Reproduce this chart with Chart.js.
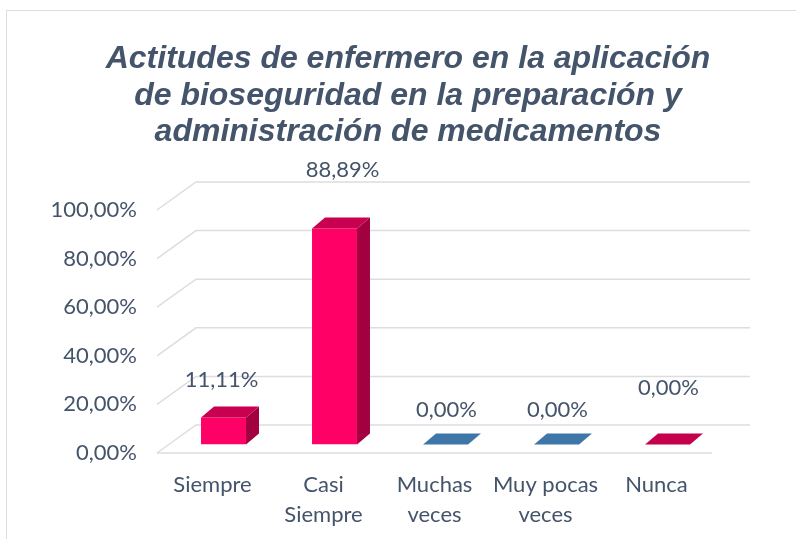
<!DOCTYPE html>
<html>
<head>
<meta charset="utf-8">
<script src="https://cdn.jsdelivr.net/npm/chart.js@4.4.1/dist/chart.umd.min.js"></script>
<style>
  html, body { margin: 0; padding: 0; background: #fff; }
  #wrap { width: 796px; height: 539px; }
</style>
</head>
<body>
<div id="wrap"><canvas id="chart" width="796" height="539"></canvas></div>
<script>
// data
var categories = ['Siempre', ['Casi', 'Siempre'], ['Muchas', 'veces'], ['Muy pocas', 'veces'], 'Nunca'];
var values = [0.1111, 0.8889, 0, 0, 0];
var tickValues = [0, 0.2, 0.4, 0.6, 0.8, 1];
var titleLines = ['Actitudes de enfermero en la aplicación', 'de bioseguridad en la preparación y', 'administración de medicamentos'];

// colours of the faces
var frontColors = ['#FF0066', '#FF0066', '#4A7EB0', '#4A7EB0', '#FF0066'];
var topColors = ['#C8004F', '#C8004F', '#3F76A8', '#3F76A8', '#C4004C'];
var sideColors = ['#A2003F', '#A2003F', '#30608C', '#30608C', '#A2003F'];

// label tweaks, Excel places them a bit unevenly
var labelLift = [38, 59, 35, 35, 57];
var labelShiftX = [-2, 8, 1, 1, 1];

var textColor = '#44546A';
var gridColor = '#DDDDDD';
var FRONT = { dx: 11, dy: -8.5 };   // bar front face vs floor front edge
var DEPTH = { dx: 13, dy: -11 };    // bar depth
var WALL = { dx: 39, dy: -28 };     // back wall vs front edge

function pct(v) {
    return (v * 100).toFixed(2).replace('.', ',') + '%';
}

var threeD = {
    id: 'threeD',
    beforeDatasetsDraw: function (chart) {
        var ctx = chart.ctx;
        var y = chart.scales.y;
        var area = chart.chartArea;
        ctx.save();
        ctx.strokeStyle = gridColor;
        ctx.lineWidth = 1.5;
        tickValues.forEach(function (v) {
            var py = y.getPixelForValue(v);
            ctx.beginPath();
            ctx.moveTo(area.left, py);
            ctx.lineTo(area.left + WALL.dx, py + WALL.dy);
            ctx.lineTo(area.right + WALL.dx - 1, py + WALL.dy);
            ctx.stroke();
        });
        // floor front edge
        var p0 = y.getPixelForValue(0);
        ctx.beginPath();
        ctx.moveTo(area.left, p0);
        ctx.lineTo(area.right, p0);
        ctx.stroke();
        ctx.restore();

        // shift so the library draws the front faces inside the depth
        ctx.save();
        ctx.translate(FRONT.dx, FRONT.dy);
    },
    afterDatasetsDraw: function (chart) {
        var ctx = chart.ctx;
        ctx.restore();
        var meta = chart.getDatasetMeta(0);
        ctx.save();
        meta.data.forEach(function (bar, i) {
            var p = bar.getProps(['x', 'y', 'base', 'width'], true);
            var l = p.x - p.width / 2 + FRONT.dx;
            var r = p.x + p.width / 2 + FRONT.dx;
            var t = p.y + FRONT.dy;
            var b = p.base + FRONT.dy;
            // side
            if (b - t > 0.5) {
                ctx.fillStyle = sideColors[i];
                ctx.beginPath();
                ctx.moveTo(r, t);
                ctx.lineTo(r, b);
                ctx.lineTo(r + DEPTH.dx, b + DEPTH.dy);
                ctx.lineTo(r + DEPTH.dx, t + DEPTH.dy);
                ctx.closePath();
                ctx.fill();
            }
            // top
            ctx.fillStyle = topColors[i];
            ctx.beginPath();
            ctx.moveTo(l, t);
            ctx.lineTo(r, t);
            ctx.lineTo(r + DEPTH.dx, t + DEPTH.dy);
            ctx.lineTo(l + DEPTH.dx, t + DEPTH.dy);
            ctx.closePath();
            ctx.fill();

            // value label
            ctx.fillStyle = textColor;
            ctx.font = '22px Lato';
            ctx.textAlign = 'center';
            ctx.textBaseline = 'middle';
            ctx.fillText(pct(values[i]), p.x + FRONT.dx + labelShiftX[i], t - labelLift[i]);
        });
        ctx.restore();
    },
    afterDraw: function (chart) {
        var ctx = chart.ctx;
        ctx.save();
        // outer chart border
        ctx.strokeStyle = gridColor;
        ctx.lineWidth = 1;
        ctx.strokeRect(6.5, 10.5, 900, 700);
        // title
        ctx.fillStyle = textColor;
        ctx.font = 'italic bold 32px "Liberation Sans"';
        ctx.textAlign = 'center';
        ctx.textBaseline = 'middle';
        titleLines.forEach(function (line, i) {
            ctx.fillText(line, 408, 59.5 + i * 36.5);
        });
        ctx.restore();
    }
};

var ctx = document.getElementById('chart').getContext('2d');
var chart = new Chart(ctx, {
    type: 'bar',
    data: {
        labels: categories,
        datasets: [{
            data: values,
            backgroundColor: frontColors,
            borderWidth: 0,
            categoryPercentage: 1,
            barPercentage: 0.405
        }]
    },
    options: {
        responsive: false,
        animation: false,
        devicePixelRatio: 1,
        layout: { padding: { left: 0, right: 84, top: 210, bottom: 0 } },
        plugins: {
            legend: { display: false },
            title: { display: false },
            tooltip: { enabled: false }
        },
        scales: {
            x: {
                grid: { display: false, drawTicks: false },
                border: { display: false },
                ticks: {
                    color: textColor,
                    font: { family: 'Lato', size: 22, lineHeight: 1.36 },
                    padding: 17,
                    maxRotation: 0,
                    autoSkip: false
                },
                afterFit: function (s) { s.height = 86; }
            },
            y: {
                min: 0,
                max: 1,
                grid: { display: false, drawTicks: false },
                border: { display: false },
                ticks: {
                    stepSize: 0.2,
                    color: textColor,
                    font: { family: 'Lato', size: 22 },
                    padding: 20,
                    callback: function (v) { return pct(v); }
                },
                afterFit: function (s) { s.width = 157; }
            }
        }
    },
    plugins: [threeD]
});
</script>
</body>
</html>
